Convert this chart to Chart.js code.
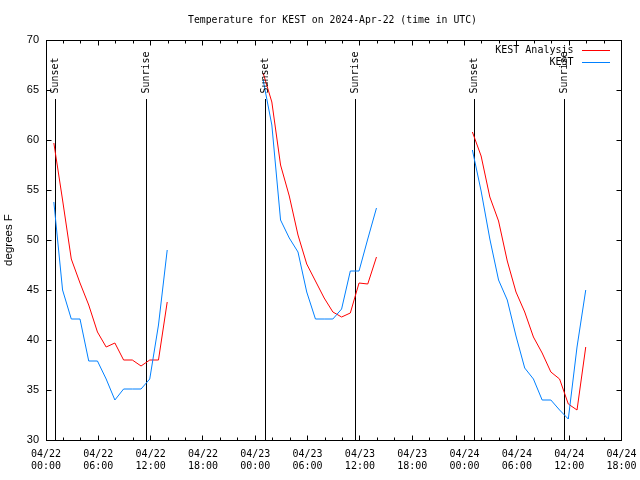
<!DOCTYPE html>
<html><head><meta charset="utf-8">
<script src="https://cdn.jsdelivr.net/npm/chart.js@4/dist/chart.umd.min.js"></script>
<style>html,body{margin:0;padding:0;background:#fff}canvas{display:block}</style>
</head><body>
<canvas id="c" width="640" height="480"></canvas>
<script>
// ---------- data ----------
const chartTitle = 'Temperature for KEST on 2024-Apr-22 (time in UTC)';
const yAxisTitle = 'degrees F';
const seriesNames = ['KEST Analysis', 'KEST'];
const seriesColors = ['#ff0000', '#0080ff'];

// hours since 04/22 00:00 UTC
const timesDay1 = [0.9, 1.9, 2.9, 3.9, 4.9, 5.9, 6.9, 7.9, 8.9, 9.9, 10.9, 11.9, 12.9, 13.9];
const timesDay2 = [24.9, 25.9, 26.9, 27.9, 28.9, 29.9, 30.9, 31.9, 32.9, 33.9, 34.9, 35.9, 36.9, 37.9];
const timesDay3 = [48.9, 49.9, 50.9, 51.9, 52.9, 53.9, 54.9, 55.9, 56.9, 57.9, 58.9, 59.9, 60.9, 61.9];

const analysisDay1 = [59.7, 54.0, 48.1, 45.7, 43.5, 40.8, 39.3, 39.7, 38.0, 38.0, 37.4, 38.0, 38.0, 43.8];
const analysisDay2 = [66.7, 63.8, 57.5, 54.4, 50.5, 47.6, 45.9, 44.2, 42.8, 42.3, 42.7, 45.7, 45.6, 48.3];
const analysisDay3 = [60.8, 58.4, 54.3, 51.9, 47.9, 44.8, 42.8, 40.3, 38.7, 36.8, 36.1, 33.6, 33.0, 39.3];

const obsDay1 = [53.8, 45.0, 42.1, 42.1, 37.9, 37.9, 36.1, 34.0, 35.1, 35.1, 35.1, 36.1, 41.5, 49.0];
const obsDay2 = [66.0, 61.5, 52.0, 50.2, 48.8, 44.8, 42.1, 42.1, 42.1, 43.1, 46.9, 46.9, 50.1, 53.2];
const obsDay3 = [59.0, 54.9, 50.1, 46.0, 44.0, 40.4, 37.2, 36.1, 34.0, 34.0, 33.0, 32.1, 39.3, 45.0];

const gapHours = [19, 43];

const xTickHours = [0, 6, 12, 18, 24, 30, 36, 42, 48, 54, 60, 66];
const xTickLabels = [
  ['04/22', '00:00'], ['04/22', '06:00'], ['04/22', '12:00'], ['04/22', '18:00'],
  ['04/23', '00:00'], ['04/23', '06:00'], ['04/23', '12:00'], ['04/23', '18:00'],
  ['04/24', '00:00'], ['04/24', '06:00'], ['04/24', '12:00'], ['04/24', '18:00']
];
const yTickValues = [30, 35, 40, 45, 50, 55, 60, 65, 70];

const sunEventHours = [1.09, 11.53, 25.18, 35.5, 49.14, 59.46];
const sunEventLabels = ['Sunset', 'Sunrise', 'Sunset', 'Sunrise', 'Sunset', 'Sunrise'];
const sunLineTop = 64.1;

// ---------- build ----------
function pts(times, vals) { return times.map((t, i) => ({ x: t, y: vals[i] })); }
function joinSegs(segs) {
  let out = [];
  segs.forEach((s, i) => {
    out = out.concat(s);
    if (i < gapHours.length) out.push({ x: gapHours[i], y: null });
  });
  return out;
}
const analysisPts = joinSegs([pts(timesDay1, analysisDay1), pts(timesDay2, analysisDay2), pts(timesDay3, analysisDay3)]);
const obsPts = joinSegs([pts(timesDay1, obsDay1), pts(timesDay2, obsDay2), pts(timesDay3, obsDay3)]);

const MONO = '"DejaVu Sans Mono", "Liberation Mono", monospace';
const SANS = '"Liberation Sans", Arial, sans-serif';

const decor = {
  id: 'decor',
  beforeDatasetsDraw(chart) {
    const { ctx, chartArea: a, scales: { x, y } } = chart;
    ctx.save();
    ctx.strokeStyle = '#000';
    ctx.lineWidth = 1;
    const yTop = Math.round(y.getPixelForValue(sunLineTop));
    sunEventHours.forEach(h => {
      const px = Math.floor(x.getPixelForValue(h)) + 0.5;
      ctx.beginPath();
      ctx.moveTo(px, a.bottom);
      ctx.lineTo(px, yTop);
      ctx.stroke();
    });
    ctx.restore();
  },
  afterDraw(chart) {
    const { ctx, chartArea: a, scales: { x, y } } = chart;
    ctx.save();
    ctx.strokeStyle = '#000';
    ctx.lineWidth = 1;
    const L = Math.floor(a.left) + 0.5, R = Math.floor(a.right) + 0.5;
    const T = Math.floor(a.top) + 0.5, B = Math.floor(a.bottom) + 0.5;
    ctx.strokeRect(L, T, R - L, B - T);
    // x ticks (major every 6h, minor every 2h), mirrored on top
    ctx.beginPath();
    for (let h = 2; h < 66; h += 2) {
      const px = Math.floor(x.getPixelForValue(h)) + 0.5;
      const len = (h % 6 === 0) ? 5 : 3;
      ctx.moveTo(px, B); ctx.lineTo(px, B - len);
      ctx.moveTo(px, T); ctx.lineTo(px, T + len);
    }
    // y ticks mirrored on right
    yTickValues.forEach(v => {
      if (v === 30 || v === 70) return;
      const py = Math.floor(y.getPixelForValue(v)) + 0.5;
      ctx.moveTo(L, py); ctx.lineTo(L + 5, py);
      ctx.moveTo(R, py); ctx.lineTo(R - 5, py);
    });
    ctx.stroke();

    // sun labels
    ctx.fillStyle = '#000';
    ctx.font = '10px ' + MONO;
    ctx.textAlign = 'left';
    ctx.textBaseline = 'middle';
    sunEventHours.forEach((h, i) => {
      const px = Math.floor(x.getPixelForValue(h)) + 0.5;
      ctx.save();
      ctx.translate(px, 93.5);
      ctx.rotate(-Math.PI / 2);
      ctx.fillText(sunEventLabels[i], 0, 0);
      ctx.restore();
    });

    // title
    ctx.textAlign = 'center';
    ctx.font = '9.8px ' + MONO;
    ctx.fillText(chartTitle, 332.5, 20);

    // legend
    ctx.font = '10px ' + MONO;
    ctx.textAlign = 'right';
    chart.data.datasets.forEach((ds, i) => {
      const ly = 50 + i * 12;
      ctx.fillStyle = '#000';
      ctx.fillText(ds.label, 573.5, ly);
      ctx.strokeStyle = ds.borderColor;
      ctx.beginPath();
      ctx.moveTo(582, ly + 0.5);
      ctx.lineTo(610, ly + 0.5);
      ctx.stroke();
    });
    ctx.restore();
  }
};

new Chart(document.getElementById('c').getContext('2d'), {
  type: 'line',
  data: {
    datasets: [
      { label: seriesNames[0], data: analysisPts, borderColor: seriesColors[0], borderWidth: 1, pointRadius: 0, tension: 0, spanGaps: false, order: 2, fill: false },
      { label: seriesNames[1], data: obsPts, borderColor: seriesColors[1], borderWidth: 1, pointRadius: 0, tension: 0, spanGaps: false, order: 1, fill: false }
    ]
  },
  options: {
    responsive: false,
    animation: false,
    devicePixelRatio: 1,
    layout: { padding: { top: 40, right: 18.5, left: 0, bottom: 0 } },
    plugins: { legend: { display: false }, title: { display: false }, tooltip: { enabled: false } },
    scales: {
      x: {
        type: 'linear', min: 0, max: 66,
        afterBuildTicks: s => { s.ticks = xTickHours.map(v => ({ value: v })); },
        ticks: {
          autoSkip: false, maxRotation: 0, minRotation: 0, padding: 8, color: '#000',
          font: { family: MONO, size: 10, lineHeight: 1.2 },
          callback: v => { const i = xTickHours.indexOf(v); return i >= 0 ? xTickLabels[i] : ''; }
        },
        grid: { display: false, drawTicks: false },
        border: { display: false },
        afterFit: s => { s.height = 40; s.paddingLeft = 0; s.paddingRight = 0; }
      },
      y: {
        type: 'linear', min: 30, max: 70,
        afterBuildTicks: s => { s.ticks = yTickValues.map(v => ({ value: v })); },
        ticks: { padding: 7, color: '#000', font: { family: SANS, size: 11 } },
        grid: { display: false, drawTicks: false },
        border: { display: false },
        title: { display: true, text: yAxisTitle, color: '#000', font: { family: SANS, size: 11.5 }, padding: { top: 2, bottom: 0 } },
        afterFit: s => { s.width = 46; s.paddingTop = 0; s.paddingBottom = 0; }
      }
    }
  },
  plugins: [decor]
});
</script>
</body></html>
